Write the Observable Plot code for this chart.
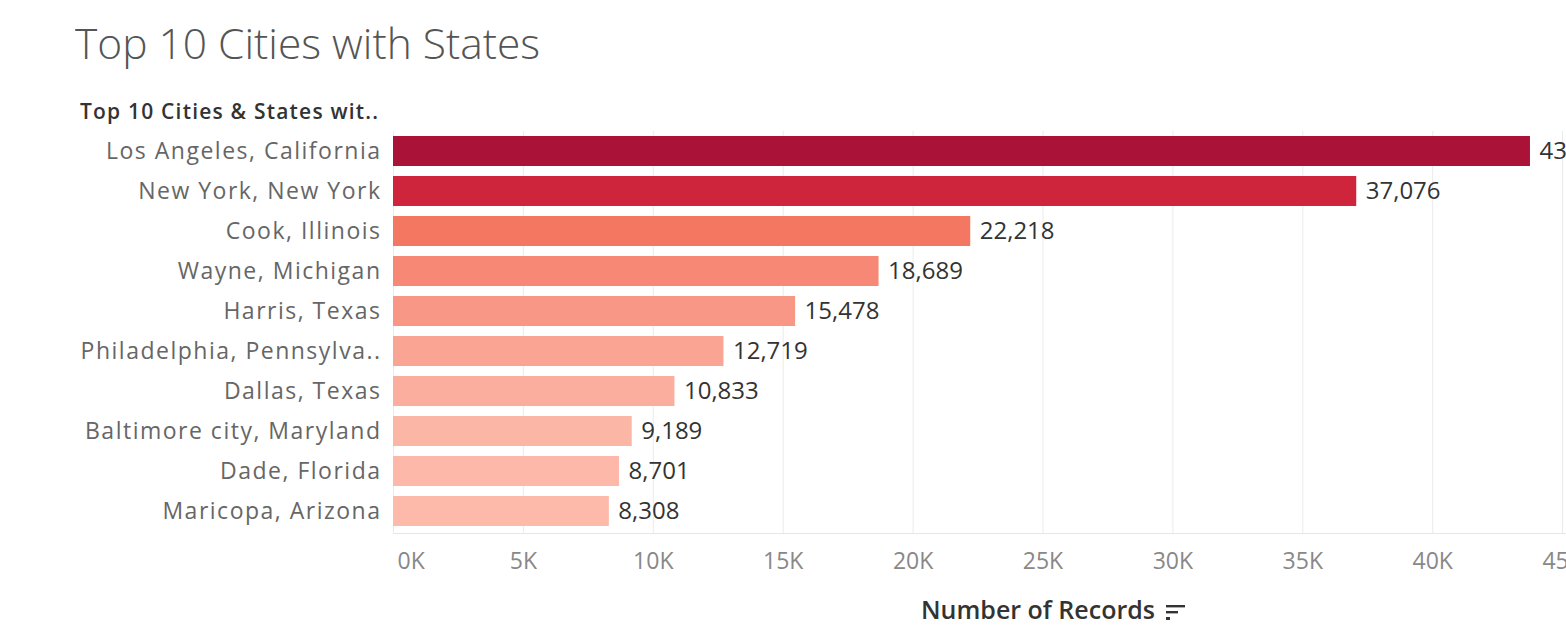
<!DOCTYPE html>
<html>
<head>
<meta charset="utf-8">
<script src="https://cdn.jsdelivr.net/npm/d3@7"></script>
<script src="https://cdn.jsdelivr.net/npm/@observablehq/plot@0.6"></script>
<style>
  html, body { margin: 0; padding: 0; background: #fff; overflow: hidden; }
  body { width: 1566px; height: 629px; position: relative; font-family: "Open Sans", sans-serif; }
  #title { position: absolute; left: 75px; top: 14px; font-size: 42.5px; font-weight: 300; color: #555; white-space: nowrap; z-index: 2; }
  #header { position: absolute; left: 80px; top: 97px; font-size: 21px; font-weight: 600; letter-spacing: 1.2px; color: #333; white-space: nowrap; z-index: 2; }
  #chart { position: absolute; left: 0; top: 100px; z-index: 1; }
  #xtitle { position: absolute; left: 921px; top: 592px; font-size: 25px; font-weight: 600; color: #333; white-space: nowrap; z-index: 2; }
  #xtitle svg { vertical-align: middle; margin-left: 10px; }
  [aria-label="y-axis tick label"] text { letter-spacing: 1.5px; }
</style>
</head>
<body>
<div id="chart"></div>
<div id="title">Top 10 Cities with States</div>
<div id="header">Top 10 Cities &amp; States wit..</div>
<div id="xtitle">Number of Records<svg width="22" height="22" viewBox="0 0 22 22"><rect x="1" y="4" width="19" height="2.4" fill="#333"/><rect x="1" y="10" width="12" height="2.4" fill="#333"/><rect x="1" y="16" width="4" height="3" fill="#333"/></svg></div>
<script>
const cities = [
  "Los Angeles, California",
  "New York, New York",
  "Cook, Illinois",
  "Wayne, Michigan",
  "Harris, Texas",
  "Philadelphia, Pennsylva..",
  "Dallas, Texas",
  "Baltimore city, Maryland",
  "Dade, Florida",
  "Maricopa, Arizona"
];
const records = [43763, 37076, 22218, 18689, 15478, 12719, 10833, 9189, 8701, 8308];
const xTicks = [0, 5000, 10000, 15000, 20000, 25000, 30000, 35000, 40000, 45000];

const data = cities.map((c, i) => ({city: c, value: records[i]}));
const fmt = d3.format(",");
const kfmt = d => (d / 1000) + "K";

const plot = Plot.plot({
  width: 1566,
  height: 529,
  marginLeft: 393,
  marginRight: 0,
  marginTop: 31,
  marginBottom: 96,
  style: {fontFamily: "'Open Sans', sans-serif", background: "transparent", overflow: "visible"},
  x: {domain: [0, 45150], axis: null},
  y: {domain: cities, paddingInner: 0.25, paddingOuter: 0.125, axis: null, insetBottom: 2},
  color: {
    type: "linear",
    domain: [8308, 22218, 37076, 43763],
    range: ["#fdbaab", "#f47762", "#cf253c", "#ab1237"]
  },
  marks: [
    Plot.gridX(xTicks, {stroke: "#ebebeb", strokeOpacity: 1}),
    Plot.frame({anchor: "bottom", stroke: "#e6e6e6"}),
    Plot.barX(data, {x: "value", y: "city", fill: "value"}),
    Plot.text(data, {x: "value", y: "city", text: d => fmt(d.value), dx: 9, textAnchor: "start", fontSize: 24, fill: "#333"}),
    Plot.axisY({tickSize: 0, tickPadding: 12, fontSize: 23, color: "#666", label: null}),
    Plot.axisX(xTicks.slice(0, 1), {tickSize: 0, tickPadding: 19, fontSize: 23, color: "#888", tickFormat: kfmt, textAnchor: "start", dx: 4, label: null}),
    Plot.axisX(xTicks.slice(1), {tickSize: 0, tickPadding: 19, fontSize: 23, color: "#888", tickFormat: kfmt, label: null})
  ]
});
document.getElementById("chart").appendChild(plot);
</script>
</body>
</html>
